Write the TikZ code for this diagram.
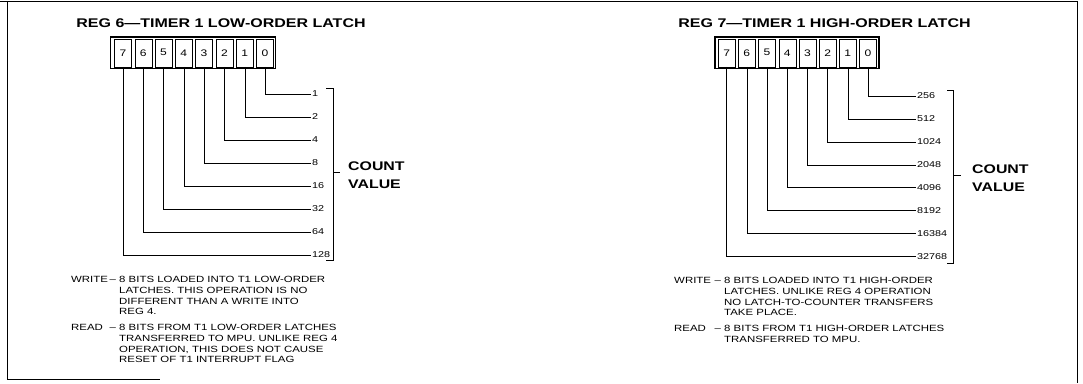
\documentclass[tikz,border=0pt]{standalone}
\usepackage{fontspec}
\setmainfont{Liberation Sans}[FakeStretch=1.27]
\newcommand{\notelines}[3]{\begin{tabular}[t]{@{}p{#1}@{}p{10.5pt}@{}l@{}}#2 & \hspace{1pt}– & #3\end{tabular}}
\begin{document}
\begin{tikzpicture}[x=1pt,y=-1pt,
  bitbox/.style={draw,minimum width=17pt,minimum height=28pt,inner sep=0pt,
                 font=\fontsize{9.5}{10}\selectfont},
  valtext/.style={anchor=west,inner sep=1pt,font=\fontsize{8.5}{9}\selectfont},
  regtitle/.style={anchor=base,inner sep=0pt,font=\bfseries\fontsize{12.6}{14}\selectfont},
  counttext/.style={anchor=west,align=left,inner sep=0pt,
                    font=\bfseries\fontsize{12.5}{18.5}\selectfont},
  notetext/.style={anchor=base west,inner sep=0pt,font=\fontsize{9}{10.8}\selectfont}]
\useasboundingbox (0,0) rectangle (1083,383);
\draw (0,1) -- (1077,1) -- (1077,383);
\draw (7,1) -- (7,379) -- (160,379);
%\draw (7,1) rectangle (1077,379);

% REG 6
\node[regtitle] (t6) at (221,27) {REG 6—TIMER 1 LOW-ORDER LATCH};
\draw[line width=1.1pt] (110.5,37) rectangle (275.5,68.5);
\foreach \b/\v [evaluate=\b as \y using 94+23*\b] in
    {0/1,1/2,2/4,3/8,4/16,5/32,6/64,7/128} {
  \node[bitbox] (l\b) at ({265-20.3*\b},52.75) {\b};
  \node[valtext] (lv\b) at (311,\y) {\v};
  \draw (l\b.south) |- (lv\b.west);
}
\draw (326,88) -- (333,88) -- (333,260) -- (326,260);
\draw (333,172) -- (340,172);
\node[counttext] (cv6) at (348,175) {COUNT\\VALUE};
\node[notetext] (w6) at (71,282.5) {\notelines{37.5pt}{WRITE}{8 BITS LOADED INTO T1 LOW-ORDER\\
  && LATCHES. THIS OPERATION IS NO\\ && DIFFERENT THAN A WRITE INTO\\ && REG 4.}};
\node[notetext] (r6) at (71,330.5) {\notelines{37.5pt}{READ}{8 BITS FROM T1 LOW-ORDER LATCHES\\
  && TRANSFERRED TO MPU. UNLIKE REG 4\\ && OPERATION, THIS DOES NOT CAUSE\\
  && RESET OF T1 INTERRUPT FLAG}};

% REG 7
\node[regtitle] (t7) at (824.5,27) {REG 7—TIMER 1 HIGH-ORDER LATCH};
\draw[line width=1.1pt] (715,37) rectangle (879,68.5);
\foreach \b/\v [evaluate=\b as \y using 96+22.9*\b] in
    {0/256,1/512,2/1024,3/2048,4/4096,5/8192,6/16384,7/32768} {
  \node[bitbox] (r\b) at ({868-20.2*\b},52.75) {\b};
  \node[valtext] (rv\b) at (916,\y) {\v};
  \draw (r\b.south) |- (rv\b.west);
}
\draw (947,90) -- (953,90) -- (953,263) -- (947,263);
\draw (953,175) -- (961,175);
\node[counttext] (cv7) at (972,178) {COUNT\\VALUE};
\node[notetext] (w7) at (674,283.5) {\notelines{39.5pt}{WRITE}{8 BITS LOADED INTO T1 HIGH-ORDER\\
  && LATCHES. UNLIKE REG 4 OPERATION\\ && NO LATCH-TO-COUNTER TRANSFERS\\ && TAKE PLACE.}};
\node[notetext] (r7) at (674,331.5) {\notelines{39.5pt}{READ}{8 BITS FROM T1 HIGH-ORDER LATCHES\\
  && TRANSFERRED TO MPU.}};
\end{tikzpicture}
\end{document}
